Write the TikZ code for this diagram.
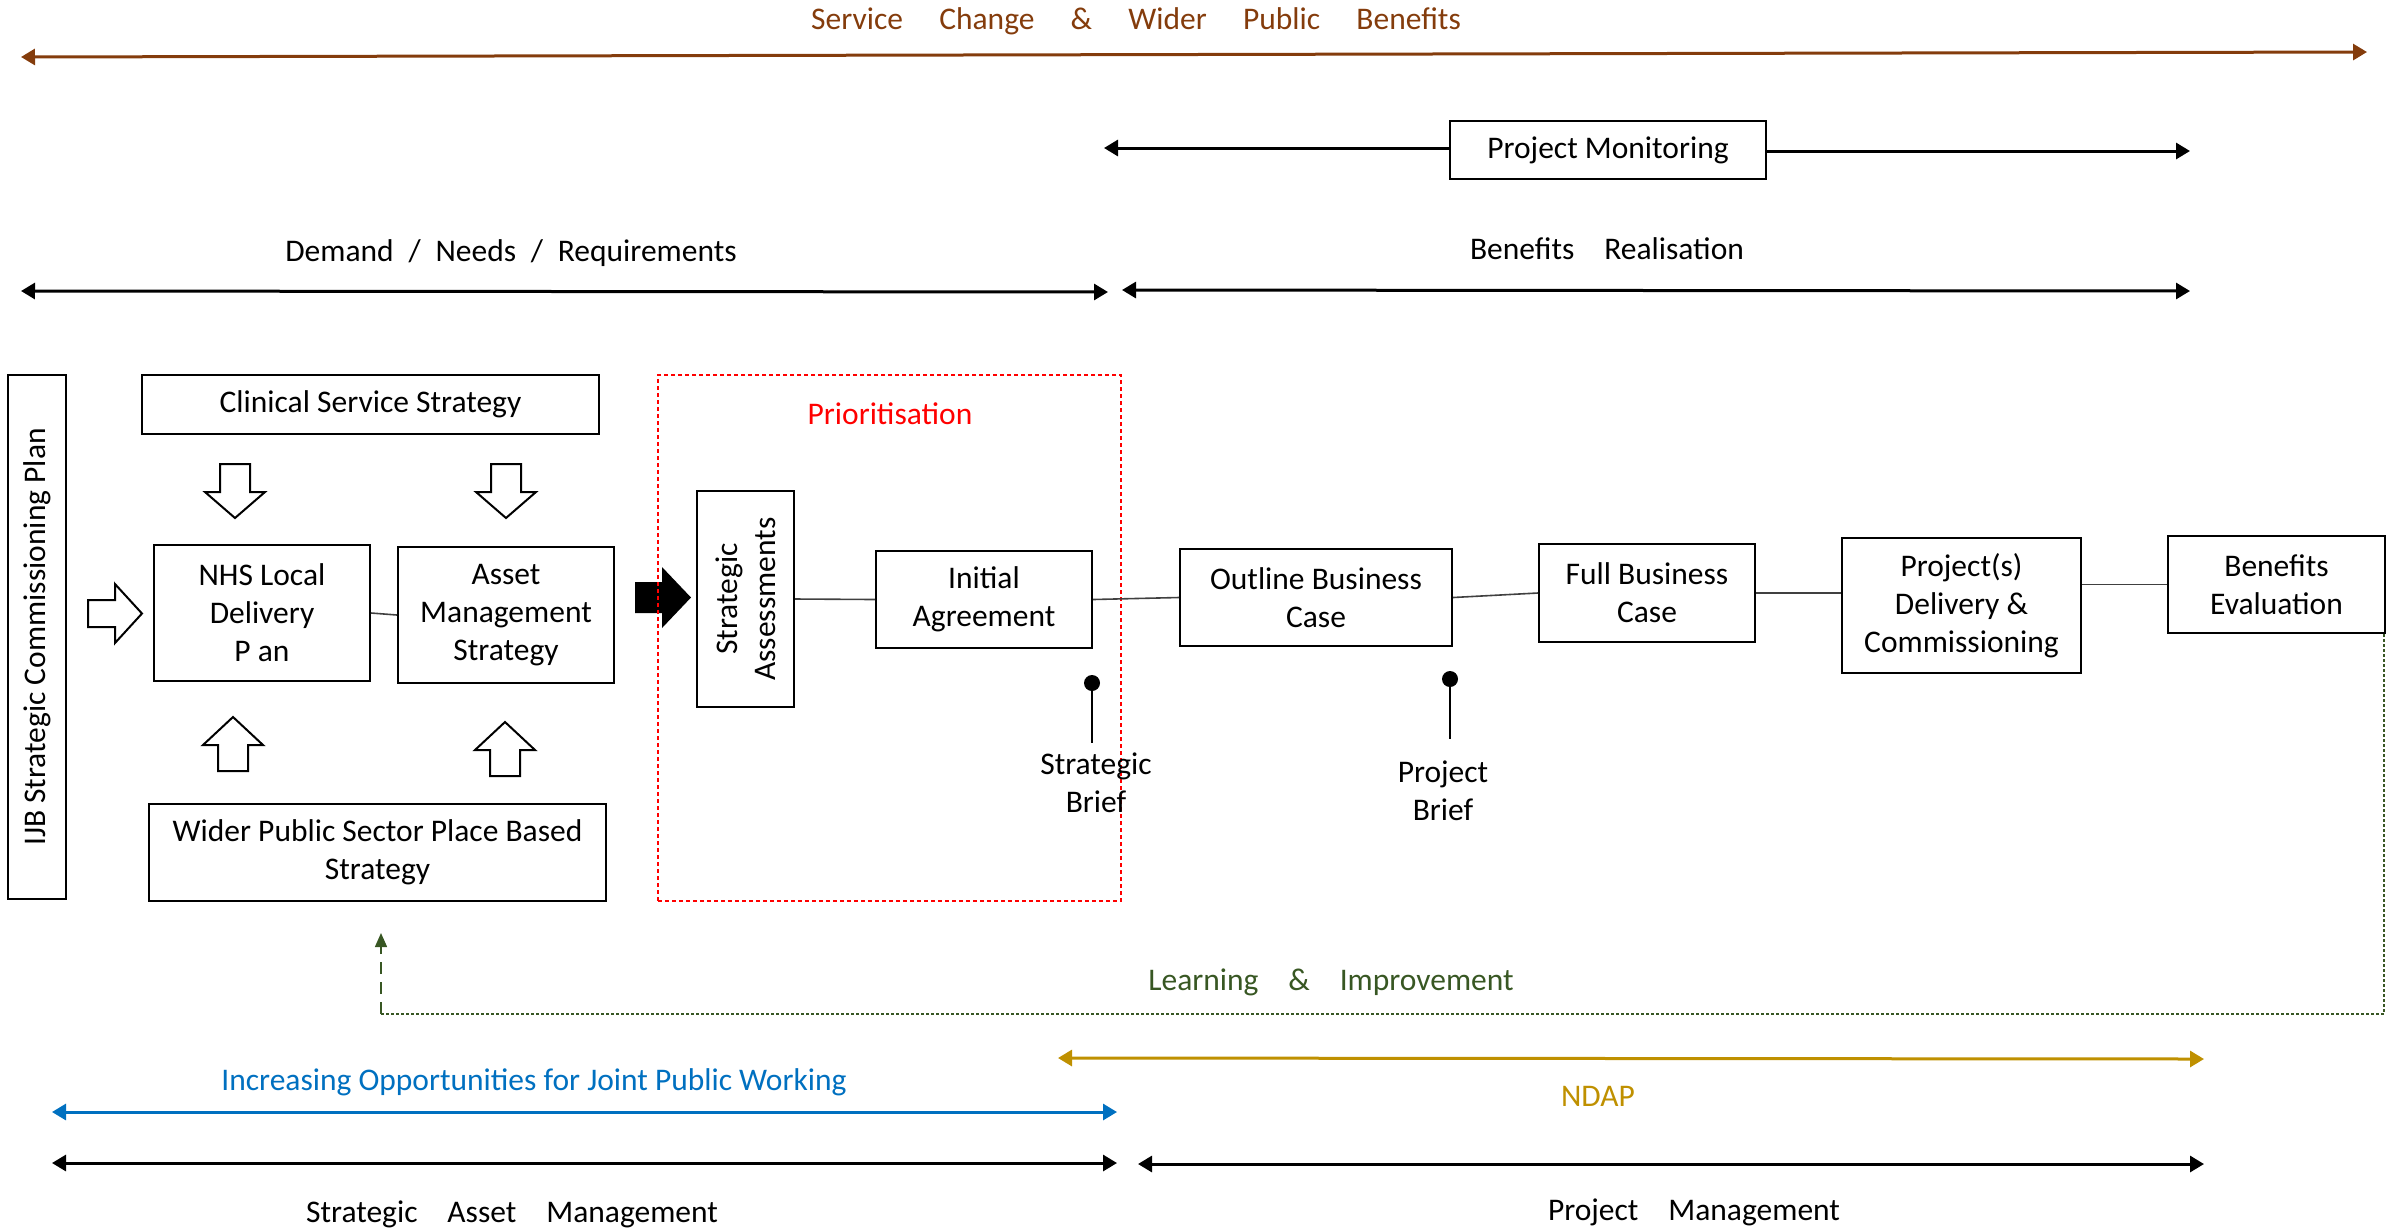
\documentclass[tikz,border=0pt]{standalone}
\usepackage{fontspec}
\setmainfont{Carlito}
\usetikzlibrary{arrows.meta}

\definecolor{brownline}{RGB}{132,60,12}
\definecolor{fbgreen}{RGB}{56,87,35}
\definecolor{ndapgold}{RGB}{191,144,0}
\definecolor{jointblue}{RGB}{0,112,192}
\definecolor{linkgray}{RGB}{64,64,64}

% spacing between the words of the long phase labels
\newcommand{\toplblgap}{\hspace{1.15em}}
\newcommand{\lblgap}{\hspace{0.95em}}
\newcommand{\slashgap}{\hspace{0.47em}}

\begin{document}
\begin{tikzpicture}[x=0.5pt,y=-0.5pt,
  every node/.style={font=\fontsize{15.75}{19}\selectfont},
  box/.style={draw, line width=1pt, inner sep=0pt, align=center},
  span/.style={line width=1.5pt, {Triangle[length=7pt,width=8pt]}-{Triangle[length=7pt,width=8pt]}},
  halfspan/.style={line width=1.5pt, -{Triangle[length=7pt,width=8pt]}},
  link/.style={draw=linkgray, line width=0.8pt},
  blockarrow/.style={draw, line width=1pt, fill=white, line join=miter},
  lbl/.style={anchor=base, inner sep=0pt},
  pinlbl/.style={align=center, inner sep=0pt},
]
\useasboundingbox (0,0) rectangle (2387,1228);

% ---------- top phase spans ----------
\node[lbl, text=brownline] (svc) at (1136,29)
  {Service\toplblgap Change\toplblgap\&\toplblgap Wider\toplblgap Public\toplblgap Benefits};
\coordinate (svcL) at (21,57);
\coordinate (svcR) at (2367,52);
\draw[span, brownline] (svcL) -- (svcR);

\node[box, minimum width=158pt, minimum height=29pt] (pm) at (1608,150) {Project Monitoring};
\coordinate (pmL) at (1104,148);
\coordinate (pmR) at (2190,151);
\draw[halfspan] (pm.west |- pmL) -- (pmL);
\draw[halfspan] (pm.east |- pmR) -- (pmR);

\node[lbl] (dnr) at (511,261)
  {Demand\slashgap/\slashgap Needs\slashgap/\slashgap Requirements};
\coordinate (dnrL) at (21,291);
\coordinate (dnrR) at (1108,292);
\draw[span] (dnrL) -- (dnrR);

\node[lbl] (br) at (1607,259) {Benefits\lblgap Realisation};
\coordinate (brL) at (1122,290);
\coordinate (brR) at (2190,291);
\draw[span] (brL) -- (brR);

% ---------- strategy boxes ----------
\node[box, rotate=90, minimum width=262pt, minimum height=29pt] (ijb) at (37,637)
  {IJB Strategic Commissioning Plan};
\node[box, minimum width=228.5pt, minimum height=29.5pt] (clin) at (370.5,404.5)
  {Clinical Service Strategy};
\node[box, minimum width=108pt, minimum height=68pt] (nhs) at (262,613)
  {NHS Local\\Delivery\\P an};
\node[box, minimum width=108pt, minimum height=68pt] (asset) at (506,615)
  {Asset\\Management\\Strategy};
\node[box, minimum width=228.5pt, minimum height=48.5pt] (wider) at (377.5,852.5)
  {Wider Public Sector Place Based\\Strategy};
\draw[link] (nhs.east) -- (asset.west);

% outlined block arrows
\draw[blockarrow] (220,464) -- (250,464) -- (250,492) -- (265,492) -- (235,518)
  -- (205,492) -- (220,492) -- cycle;
\draw[blockarrow] (491,464) -- (521,464) -- (521,492) -- (536,492) -- (506,518)
  -- (476,492) -- (491,492) -- cycle;
\draw[blockarrow] (218,771) -- (248,771) -- (248,745) -- (263,745) -- (233,717)
  -- (203,745) -- (218,745) -- cycle;
\draw[blockarrow] (490,776) -- (520,776) -- (520,750) -- (535,750) -- (505,722)
  -- (475,750) -- (490,750) -- cycle;
\draw[blockarrow] (88,600) -- (115,600) -- (115,584) -- (142,613.5) -- (115,643)
  -- (115,627) -- (88,627) -- cycle;
% solid arrow into prioritisation
\fill (635,582) -- (662,582) -- (662,567) -- (691,597.5) -- (662,628) -- (662,613)
  -- (635,613) -- cycle;

% ---------- prioritisation ----------
\node[draw=red, dash pattern=on 2pt off 1.5pt, line width=0.75pt, inner sep=0pt,
  minimum width=231.5pt, minimum height=263pt] (prio) at (889.5,638) {};
\node[lbl, text=red] (priolbl) at (890,424) {Prioritisation};

\node[box, rotate=90, minimum width=108pt, minimum height=48.5pt] (sa) at (745.5,599)
  {Strategic\\Assessments};
\node[box, minimum width=108pt, minimum height=48.5pt] (ia) at (984,599.5)
  {Initial\\Agreement};

% ---------- business case chain ----------
\node[box, minimum width=136pt, minimum height=48.5pt] (obc) at (1316,597.5)
  {Outline Business\\Case};
\node[box, minimum width=108pt, minimum height=49pt] (fbc) at (1647,593)
  {Full Business\\Case};
\node[box, minimum width=119.5pt, minimum height=67.5pt] (pd) at (1961.5,605.5)
  {Project(s)\\Delivery \&\\Commissioning};
\node[box, minimum width=108.5pt, minimum height=48.5pt] (be) at (2276.5,584.5)
  {Benefits\\Evaluation};

\draw[link] (sa.south) -- (ia.west);
\draw[link] (ia.east) -- (obc.west);
\draw[link] (obc.east) -- (fbc.west);
\draw[link] (fbc.east) -- (fbc.east -| pd.west);
\draw[link] (be.west -| pd.east) -- (be.west);

% brief pins
\coordinate (sbTop) at (1092,683);
\coordinate (sbBot) at (1092,743);
\draw[line width=1.25pt] (sbTop) -- (sbBot);
\fill (sbTop) circle[radius=4pt];
\node[pinlbl] (sb) at (1096,783) {Strategic\\Brief};

\coordinate (pbTop) at (1450,679);
\coordinate (pbBot) at (1450,739);
\draw[line width=1.25pt] (pbTop) -- (pbBot);
\fill (pbTop) circle[radius=4pt];
\node[pinlbl] (pb) at (1443,791) {Project\\Brief};

% ---------- learning feedback loop ----------
\coordinate (fbL) at (381,1014);
\coordinate (fbTip) at (381,933);
\draw[fbgreen, line width=0.75pt, dash pattern=on 1.5pt off 1pt]
  ([xshift=-1pt]be.south east) |- (fbL);
\draw[fbgreen, line width=0.75pt, dash pattern=on 6pt off 4pt,
  -{Triangle[length=7pt,width=6pt]}] (fbL) -- (fbTip);
\node[lbl, text=fbgreen] (li) at (1331,990) {Learning\lblgap\&\lblgap Improvement};

% ---------- bottom phase spans ----------
\coordinate (ndL) at (1058,1058);
\coordinate (ndR) at (2204,1059);
\draw[span, ndapgold] (ndL) -- (ndR);
\node[lbl, text=ndapgold] (ndap) at (1598,1106) {NDAP};

\node[lbl, text=jointblue] (joint) at (534,1090)
  {Increasing Opportunities for Joint Public Working};
\coordinate (jL) at (52,1112);
\coordinate (jR) at (1117,1112);
\draw[span, jointblue] (jL) -- (jR);

\coordinate (samL) at (52,1163);
\coordinate (samR) at (1117,1163);
\draw[span] (samL) -- (samR);
\node[lbl] (sam) at (512,1222) {Strategic\lblgap Asset\lblgap Management};

\coordinate (pmgL) at (1138,1164);
\coordinate (pmgR) at (2204,1164);
\draw[span] (pmgL) -- (pmgR);
\node[lbl] (pmg) at (1694,1220) {Project\lblgap Management};
\end{tikzpicture}
\end{document}
